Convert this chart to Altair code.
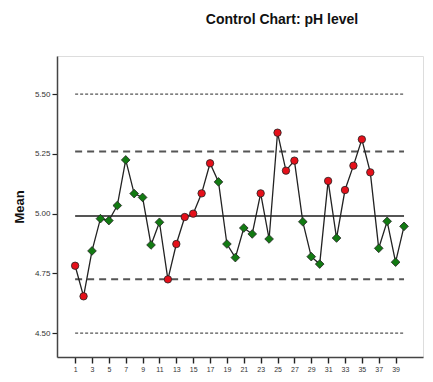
import altair as alt
import pandas as pd

samples = list(range(1, 41))
means = [4.782, 4.654, 4.844, 4.979, 4.971, 5.034, 5.225, 5.084, 5.068, 4.869,
         4.964, 4.725, 4.873, 4.986, 5.000, 5.085, 5.211, 5.133, 4.873, 4.816,
         4.940, 4.915, 5.085, 4.894, 5.339, 5.180, 5.222, 4.966, 4.820, 4.789,
         5.137, 4.898, 5.099, 5.201, 5.311, 5.173, 4.855, 4.968, 4.797, 4.947]
status = ["rule", "rule", "ok", "ok", "ok", "ok", "ok", "ok", "ok", "ok",
          "ok", "rule", "rule", "rule", "rule", "rule", "rule", "ok", "ok", "ok",
          "ok", "ok", "rule", "ok", "rule", "rule", "rule", "ok", "ok", "ok",
          "rule", "ok", "rule", "rule", "rule", "rule", "ok", "ok", "ok", "ok"]

limit_names = ["+3 sigma", "UCL", "Center", "LCL", "-3 sigma"]
limit_values = [5.50, 5.26, 4.99, 4.725, 4.50]
limit_kind = ["dot", "dash", "solid", "dash", "dot"]

x_ticks = list(range(1, 40, 2))
y_ticks = [4.50, 4.75, 5.00, 5.25, 5.50]

df = pd.DataFrame({"sample": samples, "mean": means, "status": status})
lim = pd.DataFrame({"name": limit_names, "value": limit_values, "kind": limit_kind,
                    "start": [1] * 5, "end": [40] * 5})

xscale = alt.Scale(domain=[-1.15, 42.25], nice=False, zero=False)
yscale = alt.Scale(domain=[4.40, 5.66], nice=False, zero=False)

xaxis = alt.Axis(values=x_ticks, title=None, grid=False, labelFontSize=7, labelColor="#333",
                 tickSize=6, tickColor="#222", tickWidth=1.4, domainColor="#444", domainWidth=1.5,
                 labelPadding=2, labelFont="Liberation Sans", labelAngle=0,
                 labelOverlap=False, labelFlush=False, labelSeparation=0)
yaxis = alt.Axis(values=y_ticks, format=".2f", title="Mean", grid=False, labelFontSize=8,
                 labelColor="#333", tickSize=5, tickColor="#222", tickWidth=1.2,
                 domainColor="#444", domainWidth=1.5, labelPadding=2, labelOverlap=False,
                 labelFont="Liberation Sans", titleFont="Liberation Sans", titleFontSize=13,
                 titleFontWeight="bold", titleColor="#111", titlePadding=8)

X_lim = alt.X("start:Q", scale=xscale, axis=xaxis)
Y_lim = alt.Y("value:Q", scale=yscale, axis=yaxis)

base_lim = alt.Chart(lim)
dots = base_lim.transform_filter(alt.datum.kind == "dot").mark_rule(
    color="#555", strokeWidth=1.3, strokeDash=[3, 2]).encode(x=X_lim, x2="end:Q", y=Y_lim)
dashes = base_lim.transform_filter(alt.datum.kind == "dash").mark_rule(
    color="#555", strokeWidth=2, strokeDash=[7, 5]).encode(x=X_lim, x2="end:Q", y=Y_lim)
solid = base_lim.transform_filter(alt.datum.kind == "solid").mark_rule(
    color="#555", strokeWidth=2).encode(x=X_lim, x2="end:Q", y=Y_lim)

X_pt = alt.X("sample:Q", scale=xscale, axis=xaxis)
Y_pt = alt.Y("mean:Q", scale=yscale, axis=yaxis)

line = alt.Chart(df).mark_line(color="#222", strokeWidth=1.3).encode(x=X_pt, y=Y_pt)

pts = alt.Chart(df).mark_point(filled=True, opacity=1, stroke="#222", strokeWidth=0.8).encode(
    x=X_pt, y=Y_pt,
    fill=alt.Fill("status:N", scale=alt.Scale(domain=["rule", "ok"], range=["#e5101a", "#127a12"]), legend=None),
    shape=alt.Shape("status:N", scale=alt.Scale(domain=["rule", "ok"], range=["circle", "diamond"]), legend=None),
    size=alt.Size("status:N", scale=alt.Scale(domain=["rule", "ok"], range=[55, 75]), legend=None))

chart = alt.layer(dots, dashes, solid, line, pts).properties(
    width=366, height=301,
    autosize=alt.AutoSizeParams(type="none"),
    padding={"left": 49, "top": 48, "right": 2, "bottom": 17},
    title=alt.TitleParams("Control Chart: pH level", font="Liberation Sans", fontSize=14,
                          fontWeight="bold", color="#111", anchor="middle", dx=42, offset=29),
).configure_view(fill="#f0f0f0", stroke="#666", strokeWidth=1.5).configure_axis(
    labelOverlap=False).configure(background="white")

chart.save("out.html", embed_options={"renderer": "svg", "actions": False})
